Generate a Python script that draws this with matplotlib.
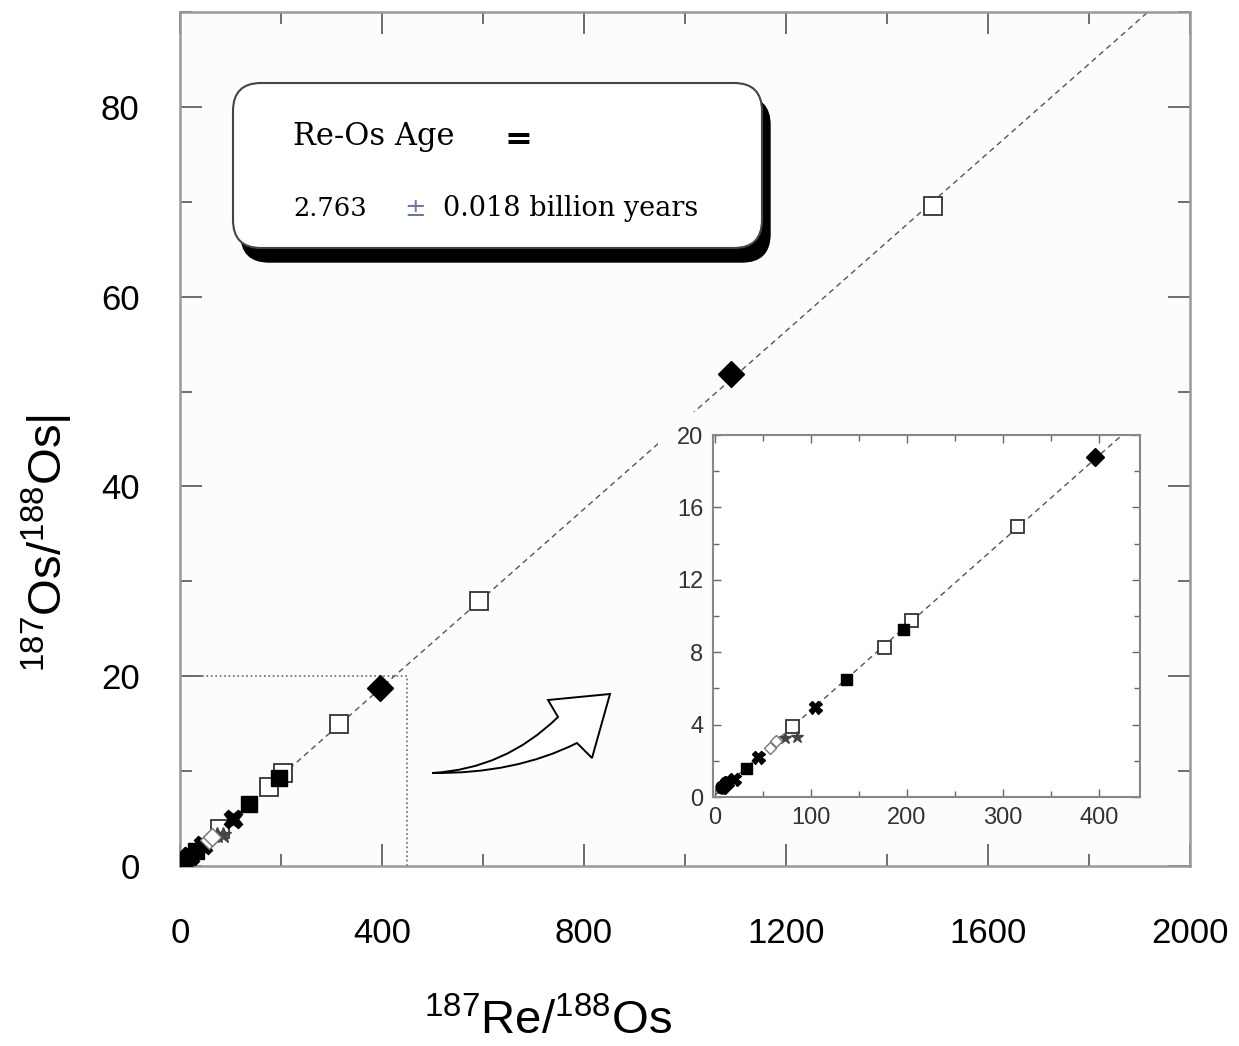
import matplotlib
matplotlib.use('Agg')
import matplotlib.pyplot as plt
from matplotlib.patches import Rectangle, FancyBboxPatch, PathPatch
from matplotlib.path import Path
from matplotlib.transforms import Affine2D
from matplotlib.ticker import MultipleLocator

plt.rcParams['font.family'] = ['Liberation Sans', 'DejaVu Sans']
plt.rcParams['mathtext.fontset'] = 'custom'
plt.rcParams['mathtext.rm'] = 'Liberation Sans'
plt.rcParams['mathtext.it'] = 'Liberation Sans:italic'

# isochron data (187Re/188Os, 187Os/188Os)
open_sq_x = [80, 176, 204, 315, 592, 1491]
open_sq_y = [3.9, 8.3, 9.8, 15.0, 27.9, 69.6]
diamond_x = [10, 396, 1091]
diamond_y = [0.65, 18.8, 51.8]
filled_sq_x = [32, 137, 196]
filled_sq_y = [1.6, 6.5, 9.3]
cross_x = [20, 45, 104]
cross_y = [1.0, 2.2, 5.0]
star_x = [73, 85]
star_y = [3.25, 3.3]
open_dia_x = [57, 64]
open_dia_y = [2.7, 3.1]
circle_x = [7, 12]
circle_y = [0.55, 0.75]

slope = 0.0469
intercept = 0.1
line_x = [0, 2000]

age_text = '2.763'
age_err = '0.018 billion years'

fig = plt.figure(figsize=(12.39, 10.46), dpi=100)
fig.patch.set_facecolor('white')
ax = fig.add_axes([0.1453, 0.1721, 0.8151, 0.8164])
ax.set_facecolor('#fcfcfc')


def draw_points(a, k):
    a.plot(open_sq_x, open_sq_y, 's', ms=13 * k, mfc='white', mec='#333333', mew=1.3, zorder=4)
    a.plot(diamond_x, diamond_y, 'D', ms=13 * k, mfc='black', mec='black', zorder=4)
    a.plot(filled_sq_x, filled_sq_y, 's', ms=11 * k, mfc='black', mec='black', zorder=4)
    a.plot(cross_x, cross_y, 'X', ms=13 * k, mfc='black', mec='black', zorder=4)
    a.plot(star_x, star_y, '*', ms=12 * k, mfc='#444444', mec='#444444', zorder=4)
    a.plot(open_dia_x, open_dia_y, 'D', ms=9 * k, mfc='white', mec='#777777', mew=1.0, zorder=4)
    a.plot(circle_x, circle_y, 'o', ms=13 * k, mfc='black', mec='black', zorder=4)


iso_y = [slope * v + intercept for v in line_x]
ax.plot(line_x, iso_y, color='#555555', lw=1.0, dashes=(4, 3), zorder=2)
draw_points(ax, 1.0)

# zoom window in main plot
ax.plot([0, 450, 450], [20, 20, 0], color='#666666', lw=1.2, ls=':', zorder=2)

ax.set_xlim(0, 2000)
ax.set_ylim(0, 90)
ax.xaxis.set_major_locator(MultipleLocator(400))
ax.xaxis.set_minor_locator(MultipleLocator(200))
ax.yaxis.set_major_locator(MultipleLocator(20))
ax.yaxis.set_minor_locator(MultipleLocator(10))
ax.tick_params(which='both', direction='in', top=True, right=True, color='#555555', width=1.2)
ax.tick_params(which='major', length=16)
ax.tick_params(which='minor', length=8.5)
ax.tick_params(axis='y', which='major', labelsize=25, pad=29)
ax.tick_params(axis='x', which='major', labelsize=25, pad=37)
for s in ax.spines.values():
    s.set_color('#999999')
    s.set_linewidth(1.8)

# white area behind the inset hides the line
ax.add_patch(Rectangle((658 / 1239, (1046 - 843) / 1046), (1150 - 658) / 1239, (843 - 412) / 1046,
                       transform=fig.transFigure, facecolor='#fcfcfc', edgecolor='none', zorder=2.5))

fig.text(0.442, 0.011, r'$^{187}$Re/$^{188}$Os', fontsize=34, ha='center', va='baseline')
fig.text(0.038, 0.481, r'$^{187}$Os/$^{188}$Os|', fontsize=34, ha='center', va='center', rotation=90)

# inset
ins = fig.add_axes([0.5755, 0.238, 0.3446, 0.3461])
ins.set_facecolor('white')
ins.plot(line_x, iso_y, color='#555555', lw=1.0, dashes=(4, 3), zorder=2)
draw_points(ins, 0.72)
ins.set_xlim(-2, 443)
ins.set_ylim(0, 20)
ins.xaxis.set_major_locator(MultipleLocator(100))
ins.xaxis.set_minor_locator(MultipleLocator(50))
ins.yaxis.set_major_locator(MultipleLocator(4))
ins.yaxis.set_minor_locator(MultipleLocator(2))
ins.tick_params(which='both', direction='in', top=True, right=True, color='#666666', width=1.0)
ins.tick_params(which='major', length=6)
ins.tick_params(which='minor', length=4)
ins.tick_params(which='major', labelsize=17, labelcolor='#333333', pad=7)
for s in ins.spines.values():
    s.set_color('#888888')
    s.set_linewidth(1.5)

# curved hollow arrow, outline given in image pixels (y down)
px = Affine2D().scale(1 / 100, -1 / 100).translate(0, 10.46) + fig.dpi_scale_trans
arrow_verts = [(432, 773), (505, 769), (558, 717),
               (548, 700), (610, 694), (592, 758), (577, 743),
               (515, 774), (432, 773)]
arrow_codes = [Path.MOVETO, Path.CURVE3, Path.CURVE3,
               Path.LINETO, Path.LINETO, Path.LINETO, Path.LINETO,
               Path.CURVE3, Path.CURVE3]
fig.add_artist(PathPatch(Path(arrow_verts, arrow_codes), transform=px, facecolor='white',
                         edgecolor='black', lw=1.4, joinstyle='miter', zorder=6))

# age box with shadow
shadow = FancyBboxPatch((2.41, 7.84), 5.29, 1.65, boxstyle='round,pad=0,rounding_size=0.28',
                        transform=fig.dpi_scale_trans, facecolor='black', edgecolor='black', zorder=5)
box = FancyBboxPatch((2.33, 7.98), 5.29, 1.65, boxstyle='round,pad=0,rounding_size=0.28',
                     transform=fig.dpi_scale_trans, facecolor='white', edgecolor='#444444', lw=1.5, zorder=5)
fig.add_artist(shadow)
fig.add_artist(box)

serif = ['DejaVu Serif']
fig.text(2.93, 9.01, 'Re-Os Age', fontsize=22, family=serif, ha='left', va='baseline',
         transform=fig.dpi_scale_trans, zorder=7)
fig.text(5.18, 9.06, '=', fontsize=24, family=serif, weight='bold', ha='center', va='center',
         transform=fig.dpi_scale_trans, zorder=7)
fig.text(2.93, 8.30, age_text, fontsize=18.5, family=serif, ha='left', va='baseline',
         transform=fig.dpi_scale_trans, zorder=7)
fig.text(4.15, 8.30, '\u00b1', fontsize=18.5, family=serif, color='#6a7a9a', ha='center', va='baseline',
         transform=fig.dpi_scale_trans, zorder=7)
fig.text(4.43, 8.30, age_err, fontsize=19.5, family=serif, ha='left', va='baseline',
         transform=fig.dpi_scale_trans, zorder=7)

plt.savefig('out.png', dpi=100, facecolor=fig.get_facecolor())
